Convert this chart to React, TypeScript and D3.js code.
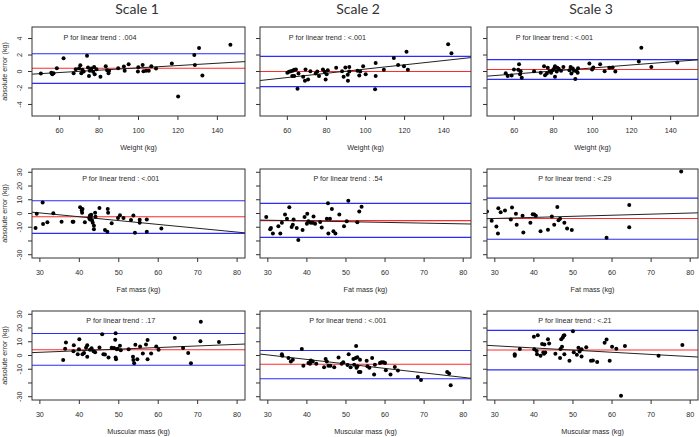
import React from "react";
import * as d3 from "d3";

// ---------- data ----------
const scaleTitles = ["Scale 1", "Scale 2", "Scale 3"];
const rowXLabels = ["Weight (kg)", "Fat mass (kg)", "Muscular mass (kg)"];
const yAxisLabel = "absolute error (kg)";

const row1XTicks = [60, 80, 100, 120, 140];
const row1YTicks = [-4, -2, 0, 2, 4];
const row23XTicks = [30, 40, 50, 60, 70, 80];
const row23YTicks = [-30, -20, -10, 0, 10, 20, 30];
const row23YTickLabels = ["-30", "", "-10", "0", "10", "20", "30"];

// Weight, Scale 1
const wS1: [number, number][] = [
  [50.5, -0.24], [55.8, -0.16], [56.3, -0.32], [56.9, -0.2], [58.6, 0.4], [62.0, 1.6],
  [67.1, -0.2], [68.2, 0.28], [69.9, 0.4], [70.5, 0.76], [71.0, -0.2], [71.5, 0.2],
  [72.2, 0], [73.9, 1.92], [74.4, 0.48], [74.9, -0.56], [75.3, 0.08], [76.1, 0.36],
  [77.0, -0.04], [77.5, 0.56], [77.8, -0.32], [78.7, 0.28], [80.7, -0.64], [83.4, 0.64],
  [84.1, 0.16], [84.8, -0.2], [85.1, 0.08], [89.7, 0.4], [92.6, 0.6], [93.0, 0.08],
  [95.0, 0.88], [99.7, 0], [99.9, 0.52], [102.1, 0.8], [102.5, 0.04], [103.8, 0.08],
  [105.2, 0.08], [106.5, 0.64], [108.9, 0.36], [116.9, 0.96], [120.1, -3.04], [128.3, 2.0],
  [128.6, 0.8], [130.7, 2.84], [132.4, -0.48], [146.6, 3.24],
];
// Weight, Scale 2
const wS2: [number, number][] = [
  [60.0, -0.16], [60.8, -0.04], [61.7, 0.04], [62.5, -0.56], [62.7, 0.08], [63.5, 0.2],
  [63.5, -0.56], [64.4, 0.24], [65.2, -2.08], [65.7, -0.24], [68.1, -0.64], [69.0, -1.12],
  [69.3, 0.24], [70.6, -0.96], [71.8, 0.04], [74.5, -0.24], [75.3, 0], [76.2, -0.56],
  [78.2, 0.24], [79.1, -0.04], [79.6, -0.96], [80.1, -0.32], [80.7, 0.16], [85.0, 0.44],
  [88.0, 0.04], [88.8, -0.64], [89.7, 0.48], [90.9, -0.4], [91.0, -1.12], [91.7, 0.56],
  [91.7, 0], [95.9, 0.08], [96.8, -0.48], [97.3, 0], [98.8, 0.64], [100.1, -0.32],
  [104.9, -2.16], [105.2, 1.04], [105.2, -0.56], [109.4, 0.2], [114.5, 1.64], [116.7, 0.8],
  [119.7, 0.64], [121.0, 2.4], [121.7, 0.2], [142.3, 3.32], [144.0, 2.2],
];
// Weight, Scale 3
const wS3: [number, number][] = [
  [55.6, -0.2], [56.6, -0.56], [58.6, -0.48], [59.8, 0.24], [62.0, 0.2], [62.4, 0.88],
  [62.9, -0.32], [63.2, 0.04], [63.8, -0.76], [70.1, 0.04], [73.5, -0.16], [75.2, 0.64],
  [75.7, -0.44], [76.6, -0.24], [77.1, 0.44], [78.0, 0.04], [78.8, -0.16], [79.6, 0.16],
  [80.3, 0.32], [80.8, 0.64], [80.8, -0.64], [81.7, 0], [82.0, 0.44], [82.7, 0.32],
  [83.9, 0.08], [85.1, 0.56], [88.2, 0.16], [88.8, 0.56], [89.2, -0.24], [89.9, 0.36],
  [90.5, 0.08], [91.2, -0.92], [91.9, 0.04], [92.4, -0.16], [92.6, 0.4], [98.4, 0.96],
  [99.8, 0.24], [100.4, 0.48], [103.9, 0.88], [106.2, 0.04], [108.6, 0.44], [110.3, 0.48],
  [111.7, 0], [123.7, 1.2], [125.0, 2.88], [130.1, 0.56], [143.4, 1.08],
];
// Fat mass, Scale 1
const fS1: [number, number][] = [
  [28.9, -10.5], [29.2, -0.2], [30.7, 8.1], [30.8, -7.6], [31.9, -6.4], [33.4, 0.2],
  [35.5, -6.0], [38.3, -6.0], [38.5, -6.0], [40.2, 4.5], [40.6, 2.1], [40.7, 0.5],
  [40.8, 3.3], [41.4, -6.4], [42.5, -3.3], [42.7, -1.4], [42.7, -4.3], [42.9, -2.6],
  [43.0, -1.0], [43.2, -5.0], [43.4, -6.7], [43.7, -9.0], [43.7, -11.4], [44.0, 0.5],
  [44.1, -2.4], [45.1, 4.0], [46.5, -12.1], [47.1, -13.3], [47.2, 3.3], [47.3, 0.5],
  [48.2, -7.1], [49.8, -3.3], [50.3, -1.2], [51.2, -3.3], [53.1, -4.8], [53.7, -1.4],
  [54.1, -14.0], [55.3, -4.5], [55.3, -6.7], [57.1, -4.3], [57.1, -13.3], [60.8, -11.0],
];
// Fat mass, Scale 2
const fS2: [number, number][] = [
  [29.6, -2.6], [30.6, -11.4], [30.8, -10.5], [31.3, -14.5], [32.7, -9.3], [33.2, -14.5],
  [33.6, -6.7], [34.4, -0.7], [34.9, -3.8], [35.5, 4.5], [36.1, -9.8], [36.4, -8.1],
  [36.6, -4.3], [37.4, -10.5], [37.8, -19.3], [38.9, -12.1], [39.4, -2.6], [40.0, -7.4],
  [40.1, -0.2], [40.4, -5.7], [41.0, -6.7], [41.5, -6.7], [41.7, -2.1], [42.1, -7.4],
  [43.4, -6.2], [43.8, -10.2], [45.1, -3.8], [45.4, 7.4], [45.5, -14.5], [45.9, -3.8],
  [46.4, 3.3], [46.8, -12.9], [47.3, -14.5], [48.3, -0.7], [49.5, -9.3], [50.2, -5.7],
  [50.6, 9.3], [52.9, -6.4], [53.4, 1.4], [54.0, 5.0],
];
// Fat mass, Scale 3
const fS3: [number, number][] = [
  [28.0, 1.4], [29.2, -5.2], [30.4, -9.5], [30.8, -14.5], [30.9, 3.8], [31.5, 1.0],
  [32.6, 2.1], [34.1, -4.3], [34.4, 4.3], [35.4, -0.2], [35.6, -8.1], [37.1, -1.7],
  [37.3, -13.8], [39.1, -6.7], [39.7, -0.5], [40.1, -0.7], [40.5, -1.7], [41.7, -12.9],
  [43.6, -11.9], [44.6, -2.1], [45.2, -8.1], [46.0, 4.8], [46.3, -5.0], [46.7, -3.8],
  [47.8, -6.7], [48.5, -11.0], [49.7, -12.1], [58.6, -17.6], [64.4, 6.2], [64.4, -10.0],
  [77.7, 30.5],
];
// Muscular mass, Scale 1
const mS1: [number, number][] = [
  [35.9, -3.3], [36.4, 4.9], [36.6, 9.4], [38.5, 3.1], [38.6, 7.5], [39.6, 0.9],
  [39.9, 4.5], [40.0, 11.8], [40.8, 0.9], [41.2, 1.9], [41.7, 5.6], [42.0, 7.5],
  [42.0, -0.9], [42.7, 4.2], [43.1, 5.2], [43.6, 3.1], [44.0, 2.4], [45.1, 5.9],
  [45.8, 15.5], [46.1, 0.9], [46.5, 0.7], [47.4, -1.4], [48.2, 5.6], [48.8, 5.4],
  [49.1, 11.5], [49.2, 16.2], [49.2, -1.4], [49.3, -2.8], [49.5, 4.5], [49.7, 4.9],
  [50.3, 7.1], [50.5, 3.8], [52.5, 4.5], [53.6, -0.9], [53.7, -3.3], [53.9, -5.6],
  [54.2, 7.8], [54.7, -2.8], [55.4, 6.6], [56.1, 1.4], [56.9, 8.0], [57.3, 11.3],
  [57.3, -2.8], [58.2, 1.4], [59.5, 6.6], [60.1, 4.2], [64.2, 12.7], [66.3, 5.4],
  [67.6, 1.9], [68.3, -5.6], [70.7, 10.4], [70.8, 24.5], [75.4, 9.9],
];
// Muscular mass, Scale 2
const mS2: [number, number][] = [
  [33.6, 1.0], [33.7, -0.2], [35.3, -1.9], [35.9, -4.3], [36.4, -3.1], [38.7, 4.8],
  [39.1, -7.4], [40.4, -5.5], [40.8, -6.0], [41.0, -3.6], [41.5, -4.3], [42.4, -6.0],
  [44.4, -8.6], [44.8, -2.6], [45.1, -4.3], [45.5, -7.4], [46.0, -7.4], [47.0, -8.6],
  [48.1, -1.4], [48.9, -6.0], [49.3, -5.0], [50.4, -6.9], [50.7, 1.0], [51.2, -8.6],
  [51.9, -2.6], [52.1, -6.7], [52.5, -1.9], [52.6, 6.9], [52.7, -9.0], [52.9, -7.9],
  [52.9, -1.2], [53.3, -12.1], [53.6, -3.1], [53.7, -12.1], [55.3, -3.8], [55.5, -7.9],
  [56.0, -9.0], [56.7, -1.9], [57.2, -13.8], [57.4, -6.7], [58.7, -5.5], [59.1, -5.0],
  [59.6, -5.0], [60.0, -5.5], [60.2, -10.7], [61.4, -13.8], [62.5, -8.3], [63.3, -11.0],
  [68.4, -15.7], [69.2, -17.9], [75.9, -12.1], [76.4, -13.1], [76.8, -21.7],
];
// Muscular mass, Scale 3
const mS3: [number, number][] = [
  [35.1, 1.0], [35.1, -0.2], [36.4, 4.8], [40.0, 13.6], [40.1, 4.5], [40.7, 3.3],
  [40.8, 1.0], [41.0, 14.8], [41.7, -0.2], [42.1, 8.3], [42.4, 2.1], [42.6, 1.2],
  [42.7, 8.1], [42.9, 2.1], [43.6, 11.9], [43.9, 8.8], [45.5, 1.2], [46.7, -1.9],
  [46.8, 4.8], [47.0, 11.9], [47.2, 6.4], [47.4, 13.1], [47.6, 14.3], [47.8, 14.8],
  [47.8, 1.0], [49.1, -3.8], [50.0, 17.6], [50.2, 2.4], [51.0, 0.5], [51.4, 5.7],
  [51.7, 2.9], [52.2, -0.7], [52.2, 4.5], [53.4, 6.0], [54.6, -3.8], [55.1, -3.6],
  [56.2, -4.8], [58.1, 9.3], [58.6, 11.7], [59.4, -3.8], [60.0, 6.4], [61.1, 5.0],
  [62.3, -29.3], [63.3, 6.9], [71.9, -0.2], [78.0, 7.6],
];

const panelPoints = [wS1, wS2, wS3, fS1, fS2, fS3, mS1, mS2, mS3];
// limits of agreement: [upper, mean, lower]
const panelUpper = [2.16, 1.84, 1.44, 9.3, 7.4, 11.2, 16.0, 3.6, 18.3];
const panelMean = [0.4, 0.0, 0.24, -2.4, -5.2, -3.6, 4.2, -6.4, 4.0];
const panelLower = [-1.44, -1.84, -0.96, -14.5, -17.4, -18.8, -7.1, -16.9, -10.5];
// regression line: intercept, slope
const panelIntercept = [-0.97, -2.277, -1.41, 8.78, -3.3, -6.0, -1.14, 10.22, 11.8];
const panelSlope = [0.0141, 0.02574, 0.0184, -0.279, -0.053, 0.079, 0.1156, -0.327, -0.1575];
const panelPText = [".004", "<.001", "<.001", "<.001", ".54", "<.29", ".17", "<.001", "<.21"];

// ---------- layout ----------
const W = 699;
const H = 437;
const colLeft = [32, 260, 487];
const colWidth = [213, 211, 211];
const rowTop = [27, 169, 311];
const boxH = 89;
const titleX = [137, 358, 591];

const FONT = "'Liberation Sans', Arial, sans-serif";
const TXT = "#2a2a2a";

function Panel({ r, c }: { r: number; c: number }) {
  const i = r * 3 + c;
  const x0 = colLeft[c];
  const y0 = rowTop[r];
  const w = colWidth[c];
  const xDomain = r === 0 ? [46, 154] : [28, 82];
  const yDomain = r === 0 ? [-5.4, 5.4] : [-32.4, 32.4];
  const xs = d3.scaleLinear().domain(xDomain).range([x0, x0 + w]);
  const ys = d3.scaleLinear().domain(yDomain).range([y0 + boxH, y0]);
  const xTicks = r === 0 ? row1XTicks : row23XTicks;
  const yTicks = r === 0 ? row1YTicks : row23YTicks;
  const yLabels = r === 0 ? row1YTicks.map(String) : row23YTickLabels;
  const clipId = `clip${i}`;
  const line = d3
    .line<number>()
    .x((v) => xs(v))
    .y((v) => ys(panelIntercept[i] + panelSlope[i] * v));
  const pts = panelPoints[i];
  const textX = r === 0 ? 80.5 : 50.5;
  const textY = r === 0 ? 4.1 : 25.5;
  return (
    <g>
      <defs>
        <clipPath id={clipId}>
          <rect x={x0} y={y0} width={w} height={boxH} />
        </clipPath>
      </defs>
      <g clipPath={`url(#${clipId})`}>
        <line x1={x0} x2={x0 + w} y1={ys(panelUpper[i])} y2={ys(panelUpper[i])} stroke="#2b2bff" strokeWidth={1.1} />
        <line x1={x0} x2={x0 + w} y1={ys(panelLower[i])} y2={ys(panelLower[i])} stroke="#2b2bff" strokeWidth={1.1} />
        <line x1={x0} x2={x0 + w} y1={ys(panelMean[i])} y2={ys(panelMean[i])} stroke="#ff2a2a" strokeWidth={1.1} />
        <path d={line(xDomain) || ""} stroke="#222" strokeWidth={1} fill="none" />
        {pts.map((p, k) => (
          <circle key={k} cx={xs(p[0])} cy={ys(p[1])} r={2} fill="#000" />
        ))}
      </g>
      <rect x={x0} y={y0} width={w} height={boxH} fill="none" stroke="#333" strokeWidth={1} />
      {yTicks.map((t) => (
        <line key={"yt" + t} x1={x0 - 4} x2={x0} y1={ys(t)} y2={ys(t)} stroke="#333" strokeWidth={1} />
      ))}
      {c === 0 &&
        yTicks.map((t, k) => (
          <text
            key={"yl" + t}
            transform={`translate(${x0 - 10},${ys(t)}) rotate(-90)`}
            textAnchor="middle"
            fontSize={7.2}
            fontFamily={FONT}
            fill={TXT}
          >
            {yLabels[k]}
          </text>
        ))}
      {xTicks.map((t) => (
        <g key={"xt" + t}>
          <line x1={xs(t)} x2={xs(t)} y1={y0 + boxH} y2={y0 + boxH + 4} stroke="#333" strokeWidth={1} />
          <text x={xs(t)} y={y0 + boxH + 17} textAnchor="middle" fontSize={7.2} fontFamily={FONT} fill={TXT}>
            {t}
          </text>
        </g>
      ))}
      <text x={x0 + w / 2} y={y0 + boxH + 34} textAnchor="middle" fontSize={7.2} fontFamily={FONT} fill={TXT}>
        {rowXLabels[r]}
      </text>
      {c === 0 && (
        <text
          transform={`translate(${x0 - 25},${y0 + boxH / 2}) rotate(-90)`}
          textAnchor="middle"
          fontSize={7.2}
          fontFamily={FONT}
          fill={TXT}
        >
          {yAxisLabel}
        </text>
      )}
      <text x={xs(textX)} y={ys(textY) + 2.5} textAnchor="middle" fontSize={7.2} fontFamily={FONT} fill={TXT}>
        {`P for linear trend : ${panelPText[i]}`}
      </text>
    </g>
  );
}

export default function App() {
  return (
    <svg width={W} height={H} style={{ position: "absolute", left: 0, top: 0, background: "#fff" }}>
      <rect width={W} height={H} fill="#fff" />
      {scaleTitles.map((t, c) => (
        <text key={t} x={titleX[c]} y={13.5} textAnchor="middle" fontSize={14} fontFamily="Lato, 'Open Sans', sans-serif" fill="#333">
          {t}
        </text>
      ))}
      {[0, 1, 2].map((r) => [0, 1, 2].map((c) => <Panel key={`${r}-${c}`} r={r} c={c} />))}
    </svg>
  );
}
